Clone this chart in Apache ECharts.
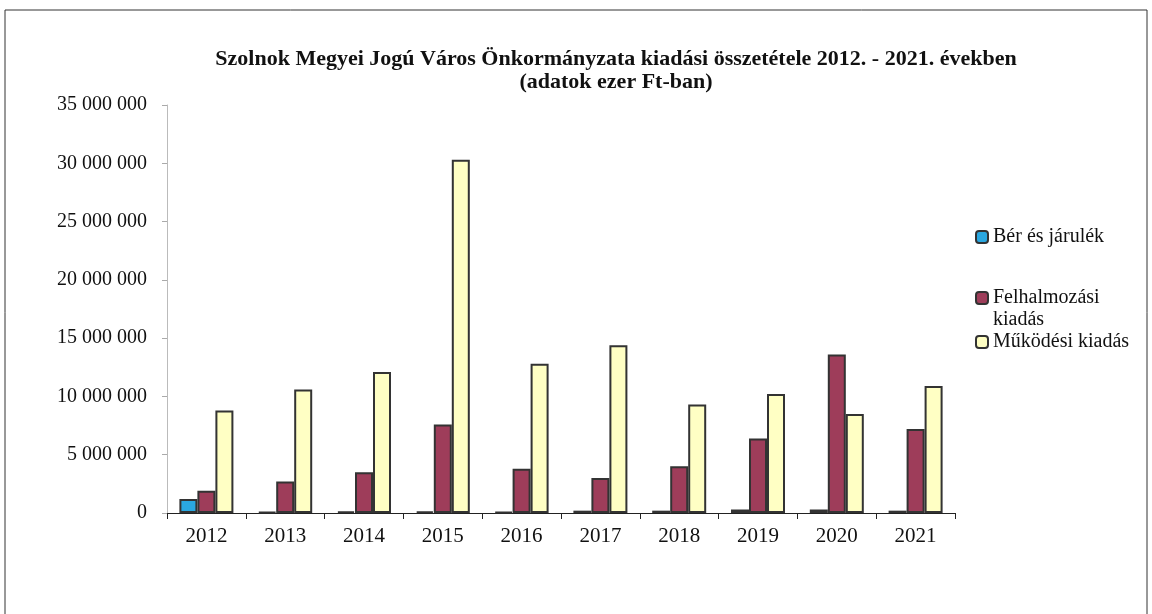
<!DOCTYPE html>
<html><head><meta charset="utf-8">
<script src="https://cdn.jsdelivr.net/npm/echarts@6/dist/echarts.min.js"></script>
<style>html,body{margin:0;padding:0;background:#fff}#c{width:1152px;height:614px}</style>
</head><body><div id="c"></div>
<script>
const categories = ['2012','2013','2014','2015','2016','2017','2018','2019','2020','2021'];
const berJarulek = [1200000, 100000, 150000, 150000, 100000, 200000, 200000, 300000, 300000, 200000];
const felhalmozasi = [1900000, 2700000, 3500000, 7600000, 3800000, 3000000, 4000000, 6400000, 13600000, 7200000];
const mukodesi = [8800000, 10600000, 12100000, 30300000, 12800000, 14400000, 9300000, 10200000, 8500000, 10900000];
const seriesNames = ['Bér és járulék', 'Felhalmozási kiadás', 'Működési kiadás'];
const titleLines = ['Szolnok Megyei Jogú Város Önkormányzata kiadási összetétele 2012. - 2021. években', '(adatok ezer Ft-ban)'];

const chart = echarts.init(document.getElementById('c'));
const serif = '"Liberation Serif","DejaVu Serif",serif';
const fmt = v => String(v).replace(/\B(?=(\d{3})+(?!\d))/g, ' ');
const barBase = {type:'bar', barWidth:18, barGap:'0%'};
const legendText = {fontFamily:serif, fontSize:20, color:'#111', lineHeight:22};
const legendBase = {orient:'vertical', left:970, itemWidth:12, itemHeight:12, itemGap:8, textStyle:legendText};
chart.setOption({
  animation:false,
  backgroundColor:'#fff',
  title:{text:titleLines.join('\n'), left:611, top:43, textAlign:'center',
    textStyle:{fontFamily:serif, fontSize:22, fontWeight:'bold', color:'#111', lineHeight:23}},
  legend:[
    Object.assign({}, legendBase, {top:221, data:[seriesNames[0]]}),
    Object.assign({}, legendBase, {top:260, data:[seriesNames[1]], formatter:n => '\u00a0\nFelhalmozási\nkiadás'}),
    Object.assign({}, legendBase, {top:326, data:[seriesNames[2]]})
  ],
  grid:{left:167, right:197, top:105, bottom:101},
  xAxis:{type:'category', data:categories,
    axisLine:{lineStyle:{color:'#222', width:1}},
    axisTick:{show:true, length:6, lineStyle:{color:'#222'}},
    axisLabel:{fontFamily:serif, fontSize:21, color:'#111', margin:13}},
  yAxis:{type:'value', min:0, max:35000000, interval:5000000,
    axisLine:{show:true, lineStyle:{color:'#bbb'}},
    axisTick:{show:true, length:5, lineStyle:{color:'#aaa'}},
    splitLine:{show:false},
    axisLabel:{fontFamily:serif, fontSize:20, color:'#111', margin:20, formatter:fmt}},
  graphic:[{type:'rect', shape:{x:5, y:10, width:1142, height:610}, style:{fill:'none', stroke:'#333', lineWidth:1}, silent:true}],
  series:[
    Object.assign({}, barBase, {name:seriesNames[0], data:berJarulek, itemStyle:{color:'#2aa7e0', borderColor:'#333', borderWidth:2}}),
    Object.assign({}, barBase, {name:seriesNames[1], data:felhalmozasi, itemStyle:{color:'#9e3d5a', borderColor:'#333', borderWidth:2}}),
    Object.assign({}, barBase, {name:seriesNames[2], data:mukodesi, itemStyle:{color:'#ffffc4', borderColor:'#333', borderWidth:2}})
  ]
});
</script></body></html>
